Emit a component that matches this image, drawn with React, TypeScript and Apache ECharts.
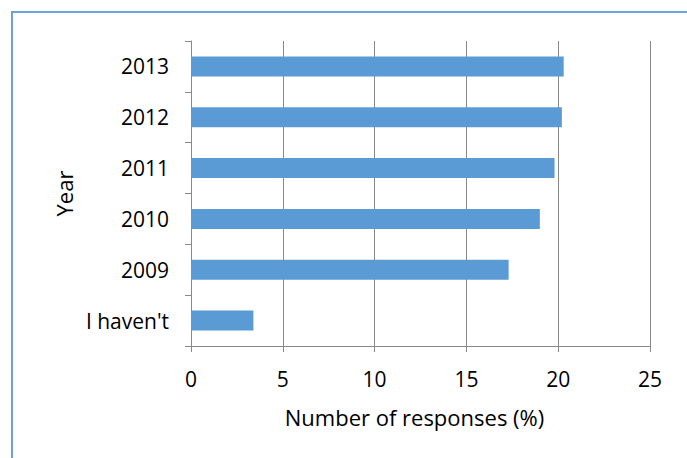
import React, { useEffect, useRef } from "react";
import * as echarts from "echarts";

// Survey responses by year of first participation
const categories = ["I haven't", "2009", "2010", "2011", "2012", "2013"];
const responses = [3.4, 17.3, 19.0, 19.8, 20.2, 20.3];
const xTicks = [0, 5, 10, 15, 20, 25];

const FONT = "Open Sans";
const AXIS_GRAY = "#898989";

export default function App() {
  const ref = useRef<HTMLDivElement>(null);

  useEffect(() => {
    if (!ref.current) return;
    const chart = echarts.init(ref.current, undefined, { renderer: "svg" });
    chart.setOption({
      animation: false,
      backgroundColor: "#ffffff",
      textStyle: { fontFamily: FONT },
      graphic: [
        {
          type: "rect",
          shape: { x: 12, y: 12, width: 700, height: 480 },
          style: { fill: "none", stroke: "#6fa3d8", lineWidth: 2 },
          silent: true,
          z: -1,
        },
      ],
      grid: { left: 191, right: 37, top: 41, bottom: 112 },
      xAxis: {
        type: "value",
        min: xTicks[0],
        max: xTicks[xTicks.length - 1],
        interval: 5,
        name: "Number of responses (%)",
        nameLocation: "middle",
        nameGap: 60,
        nameTextStyle: { fontFamily: FONT, fontSize: 22, color: "#000", padding: [0, 12, 0, 0] },
        axisLine: { show: true, lineStyle: { color: AXIS_GRAY, width: 1 } },
        axisTick: { show: true, length: 6, lineStyle: { color: AXIS_GRAY } },
        axisLabel: { margin: 22, fontFamily: FONT, fontSize: 21, color: "#000" },
        splitLine: { show: true, lineStyle: { color: AXIS_GRAY, width: 1 } },
      },
      yAxis: {
        type: "category",
        data: categories,
        name: "Year",
        nameLocation: "middle",
        nameGap: 116,
        nameRotate: 90,
        nameTextStyle: { fontFamily: FONT, fontSize: 22, color: "#000" },
        axisLine: { show: true, lineStyle: { color: AXIS_GRAY, width: 1 } },
        axisTick: { show: true, length: 6, alignWithLabel: false, lineStyle: { color: AXIS_GRAY } },
        axisLabel: { margin: 22, fontFamily: FONT, fontSize: 21, color: "#000" },
        splitLine: { show: false },
      },
      series: [
        {
          type: "bar",
          data: responses,
          barWidth: 20,
          itemStyle: { color: "#5b9bd5" },
        },
      ],
    });
    return () => chart.dispose();
  }, []);

  return (
    <div
      ref={ref}
      style={{ position: "fixed", left: 0, top: 0, width: 687, height: 458 }}
    />
  );
}
